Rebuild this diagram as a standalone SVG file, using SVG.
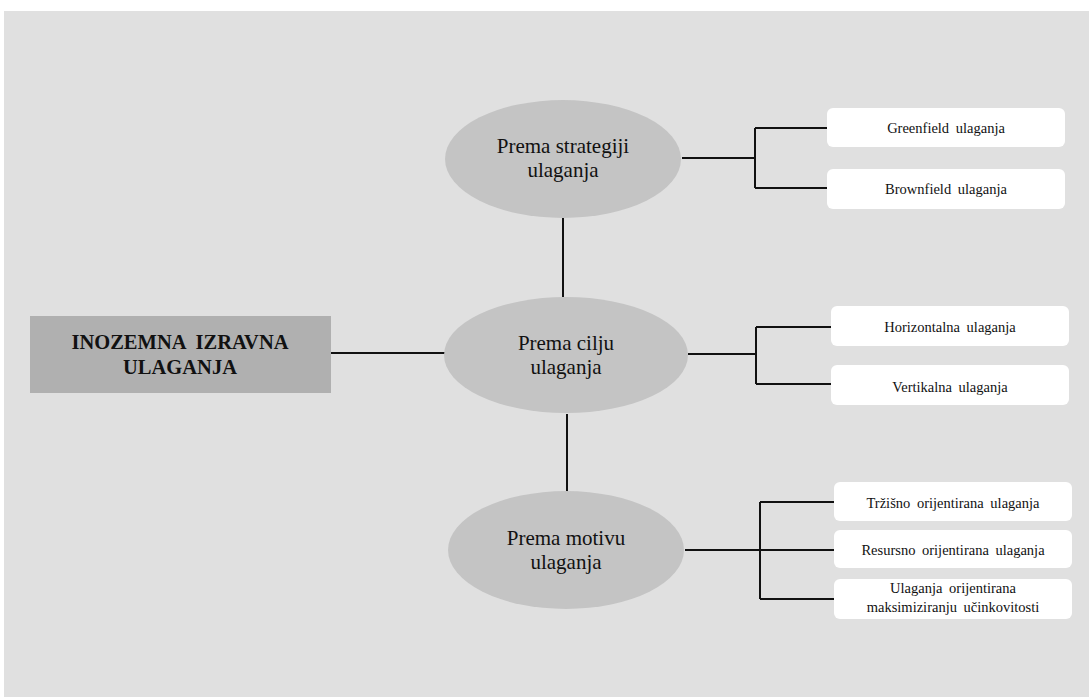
<svg xmlns="http://www.w3.org/2000/svg" width="1089" height="697" viewBox="0 0 1089 697">
<style>
.bg{fill:#e0e0e0}
.ell{fill:#c4c4c4}
.leaf{fill:#ffffff}
.conn{stroke:#111;stroke-width:2;fill:none}
.t-main{font-weight:bold;font-size:20.5px;fill:#111;text-anchor:middle;word-spacing:5px}
.t-ell{font-size:21px;fill:#111;text-anchor:middle}
.t-leaf{font-size:14.5px;fill:#111;text-anchor:middle;word-spacing:3px}
</style>
<rect width="1089" height="697" fill="#ffffff"/>
<rect class="bg" x="4" y="11" width="1085" height="686"/>
<g id="connectors">
<path class="conn" d="M331 353 H445"/>
<path class="conn" d="M563 218 V297"/>
<path class="conn" d="M567 414 V492"/>
<path class="conn" d="M682 158 H755 M755 128 V188 M755 128 H827 M755 188 H827"/>
<path class="conn" d="M688 354 H756 M756 327 V384 M756 327 H831 M756 384 H831"/>
<path class="conn" d="M685 550 H760 M760 502 V599 M760 502 H834 M760 550 H834 M760 599 H834"/>
</g>
<g font-family="Liberation Serif, serif">
<g id="root">
<rect x="30" y="316" width="301" height="77" fill="#b0b0b0"/>
<text class="t-main" x="180" y="349">INOZEMNA IZRAVNA</text>
<text class="t-main" x="180" y="374">ULAGANJA</text>
</g>
<g id="strategija">
<ellipse class="ell" cx="563" cy="159" rx="118" ry="59"/>
<text class="t-ell" x="563" y="153">Prema strategiji</text>
<text class="t-ell" x="563" y="177">ulaganja</text>
</g>
<g id="cilj">
<ellipse class="ell" cx="566" cy="355" rx="122" ry="58"/>
<text class="t-ell" x="566" y="350">Prema cilju</text>
<text class="t-ell" x="566" y="374">ulaganja</text>
</g>
<g id="motiv">
<ellipse class="ell" cx="566" cy="550" rx="118" ry="59"/>
<text class="t-ell" x="566" y="545">Prema motivu</text>
<text class="t-ell" x="566" y="569">ulaganja</text>
</g>
<g id="greenfield">
<rect class="leaf" x="827" y="108" width="238" height="39" rx="6"/>
<text class="t-leaf" x="946" y="133">Greenfield ulaganja</text>
</g>
<g id="brownfield">
<rect class="leaf" x="827" y="169" width="238" height="40" rx="6"/>
<text class="t-leaf" x="946" y="194">Brownfield ulaganja</text>
</g>
<g id="horizontalna">
<rect class="leaf" x="831" y="306" width="238" height="40" rx="6"/>
<text class="t-leaf" x="950" y="332">Horizontalna ulaganja</text>
</g>
<g id="vertikalna">
<rect class="leaf" x="831" y="365" width="238" height="40" rx="6"/>
<text class="t-leaf" x="950" y="392">Vertikalna ulaganja</text>
</g>
<g id="trzisno">
<rect class="leaf" x="834" y="482" width="238" height="39" rx="6"/>
<text class="t-leaf" x="953" y="508">Tržišno orijentirana ulaganja</text>
</g>
<g id="resursno">
<rect class="leaf" x="834" y="530" width="238" height="38" rx="6"/>
<text class="t-leaf" x="953" y="555">Resursno orijentirana ulaganja</text>
</g>
<g id="ucinkovitost">
<rect class="leaf" x="834" y="579" width="238" height="40" rx="6"/>
<text class="t-leaf" x="953" y="593">Ulaganja orijentirana</text>
<text class="t-leaf" x="953" y="612">maksimiziranju učinkovitosti</text>
</g>
</g>
</svg>
